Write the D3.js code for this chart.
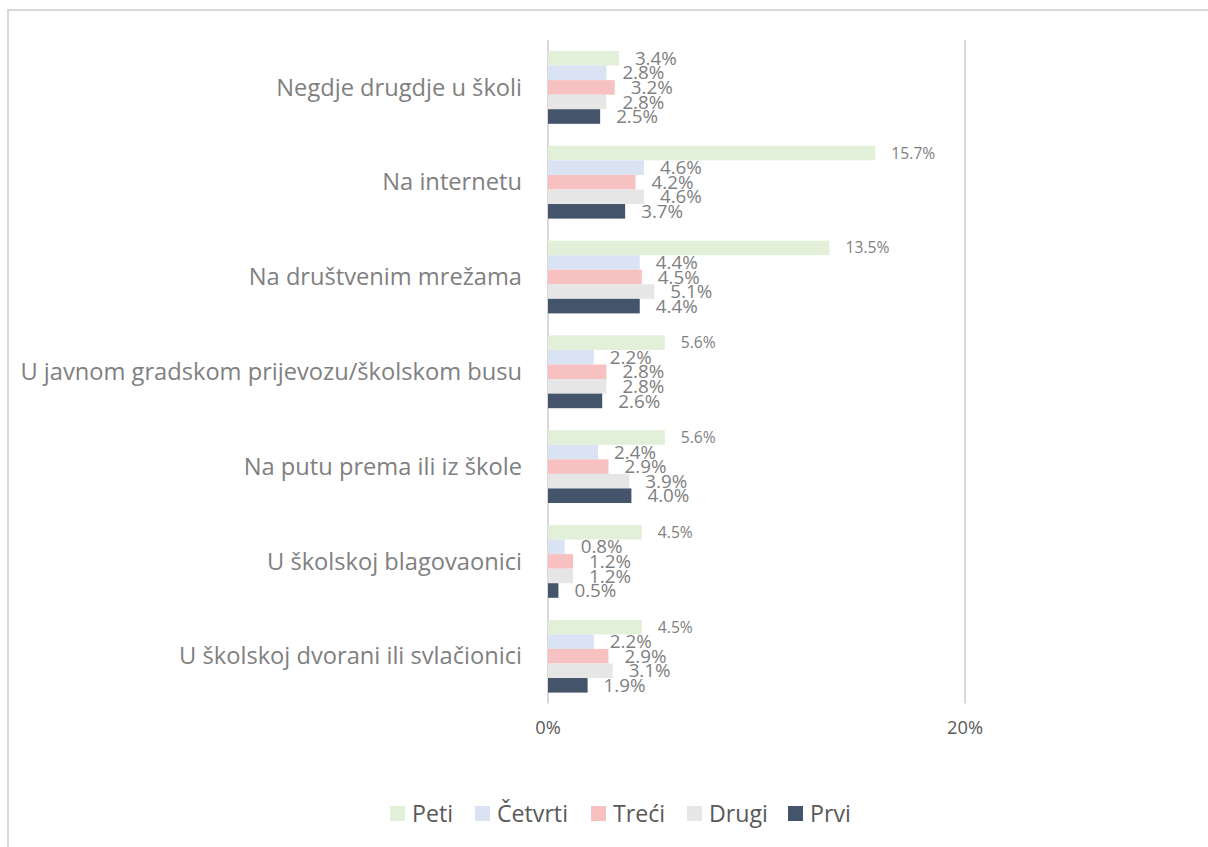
<!DOCTYPE html>
<html><head><meta charset="utf-8">
<script src="https://cdn.jsdelivr.net/npm/d3@7"></script>
<style>body{margin:0;background:#fff;} svg{display:block;} text{font-family:"Open Sans",sans-serif;}</style>
</head><body><svg id="c" width="1208" height="847"></svg>
<script>
const categories = ["Negdje drugdje u školi","Na internetu","Na društvenim mrežama","U javnom gradskom prijevozu/školskom busu","Na putu prema ili iz škole","U školskoj blagovaonici","U školskoj dvorani ili svlačionici"];
const seriesNames = ["Peti","Četvrti","Treći","Drugi","Prvi"];
const peti    = [3.4,15.7,13.5,5.6,5.6,4.5,4.5];
const cetvrti = [2.8,4.6,4.4,2.2,2.4,0.8,2.2];
const treci   = [3.2,4.2,4.5,2.8,2.9,1.2,2.9];
const drugi   = [2.8,4.6,5.1,2.8,3.9,1.2,3.1];
const prvi    = [2.5,3.7,4.4,2.6,4.0,0.5,1.9];
const xTicks = [0,20];
const colors = ["#e2efd9","#dae3f3","#f8c1c1","#e7e6e6","#44546a"];

const seriesVals = [peti,cetvrti,treci,drugi,prvi];
const svg = d3.select("#c");

// font-size fitting helper: size so that `str` spans `target` px
function fit(str, target){
  const t = svg.append("text").attr("font-size",100).text(str);
  const w = t.node().getComputedTextLength();
  t.remove();
  return 100*target/w;
}
const catSize = fit("U javnom gradskom prijevozu/školskom busu", 502);
const lblSize = fit("2.8%", 42);
const smallSize = fit("15.7%", 44);
const axSize = fit("20%", 36);
const legSize = fit("Četvrti", 71);

// outer border
svg.append("rect").attr("x",8).attr("y",10).attr("width",1220).attr("height",860)
  .attr("fill","none").attr("stroke","#d9d9d9").attr("stroke-width",2);

const x = d3.scaleLinear().domain([0,20]).range([548,965]);
const y = d3.scaleBand().domain(categories).range([40,703.6]).paddingInner(0.232).paddingOuter(0.116);
const ys = d3.scaleBand().domain(seriesNames).range([0,y.bandwidth()]);

// gridlines
svg.append("g").selectAll("line").data(xTicks).join("line")
  .attr("x1",d=>x(d)).attr("x2",d=>x(d)).attr("y1",40).attr("y2",703.6)
  .attr("stroke","#d9d9d9").attr("stroke-width",2);

// axis labels
svg.append("g").selectAll("text").data(xTicks).join("text")
  .attr("x",d=>x(d)).attr("y",728).attr("dy","0.35em").attr("text-anchor","middle")
  .attr("font-size",axSize).attr("fill","#595959").text(d=>d+"%");

// category labels
svg.append("g").selectAll("text").data(categories).join("text")
  .attr("x",522).attr("y",d=>y(d)+y.bandwidth()/2).attr("dy","0.35em")
  .attr("text-anchor","end").attr("font-size",catSize).attr("fill","#808080").text(d=>d);

// bars + labels
seriesNames.forEach((s,si)=>{
  const g = svg.append("g");
  const rows = categories.map((c,ci)=>({c, v:seriesVals[si][ci], ci}));
  g.selectAll("rect").data(rows).join("rect")
    .attr("x",x(0)).attr("y",d=>y(d.c)+ys(s))
    .attr("width",d=>x(d.v)-x(0)).attr("height",ys.bandwidth())
    .attr("fill",colors[si]);
  g.selectAll("text").data(rows).join("text")
    .attr("x",d=>x(d.v)+16).attr("y",d=>y(d.c)+ys(s)+ys.bandwidth()/2).attr("dy","0.35em")
    .attr("font-size",d=>(si===0 && d.ci>0)?smallSize:lblSize).attr("fill","#808080")
    .text(d=>d.v.toFixed(1)+"%");
});

// legend
const legX = [390,475,591,687,788];
const lg = svg.append("g");
seriesNames.forEach((s,i)=>{
  lg.append("rect").attr("x",legX[i]).attr("y",806).attr("width",15).attr("height",15).attr("fill",colors[i]);
  lg.append("text").attr("x",legX[i]+22).attr("y",813.5).attr("dy","0.35em")
    .attr("font-size",legSize).attr("fill","#595959").text(s);
});
</script></body></html>
